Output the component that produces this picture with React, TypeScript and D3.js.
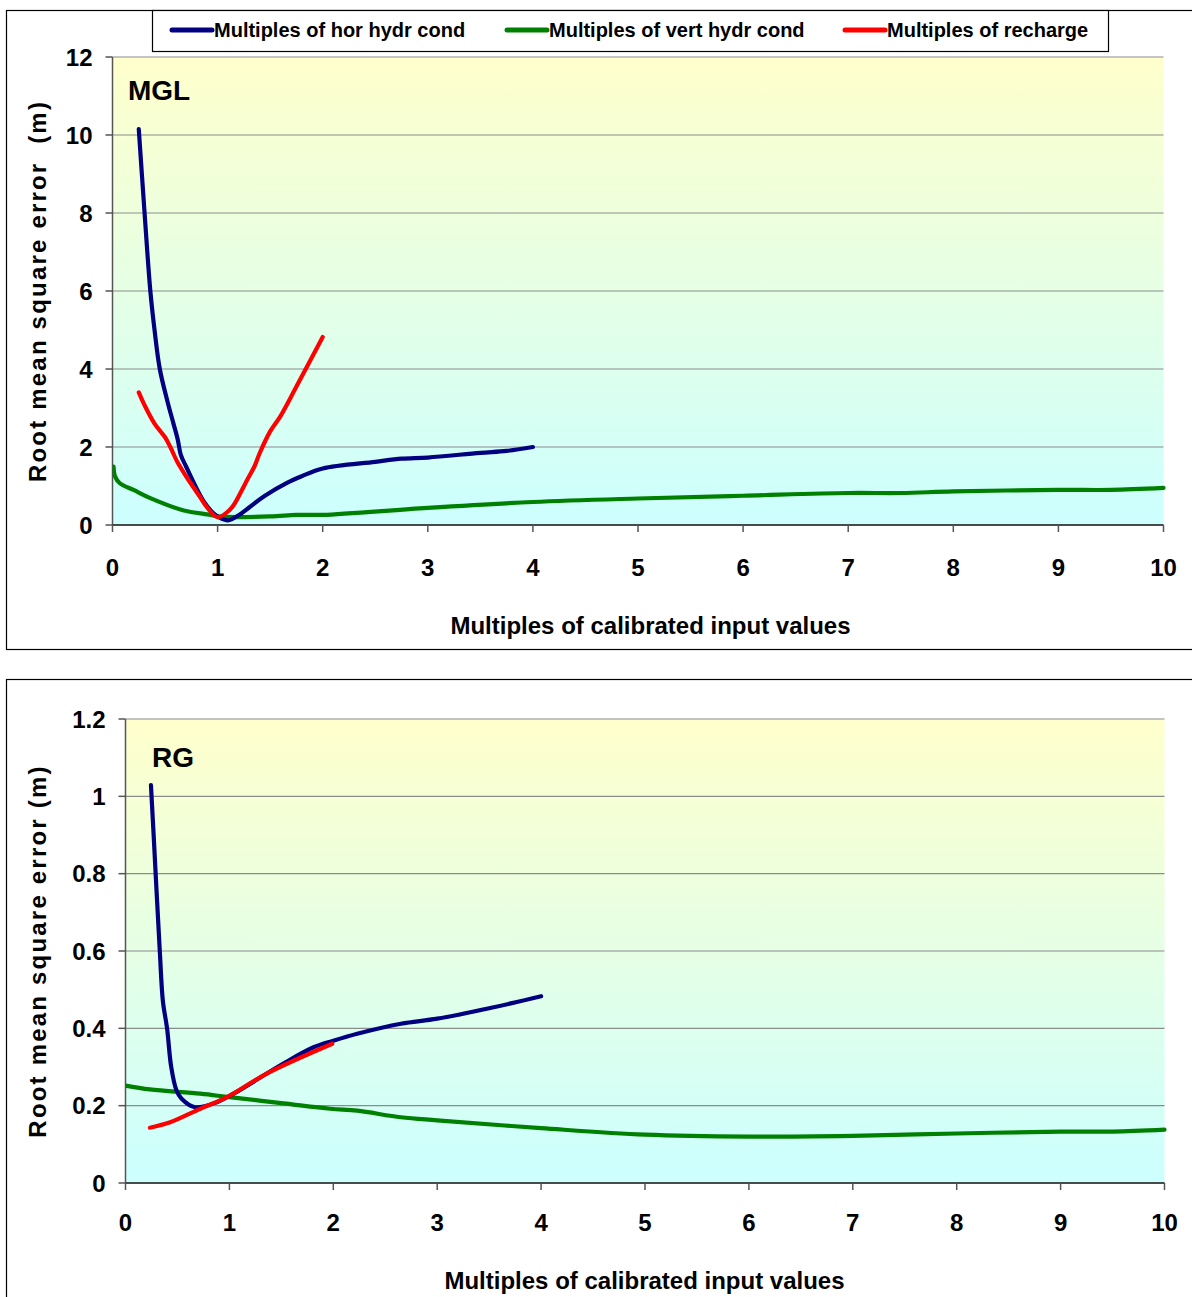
import React from "react";
import * as d3 from "d3";

// ---------- DATA ----------
const seriesNames = ["Multiples of hor hydr cond", "Multiples of vert hydr cond", "Multiples of recharge"];
const seriesColors = ["#000080", "#008000", "#FF0000"];
const xTicks = [0, 1, 2, 3, 4, 5, 6, 7, 8, 9, 10];
const mglYTicks = [0, 2, 4, 6, 8, 10, 12];
const rgYTicks = [0, 0.2, 0.4, 0.6, 0.8, 1, 1.2];

// MGL panel
const mglHor: [number, number][] = [
  [0.25, 10.15], [0.3, 8.2], [0.36, 6.0], [0.4, 5.0], [0.45, 4.0], [0.52, 3.2], [0.58, 2.6],
  [0.62, 2.2], [0.65, 1.8], [0.7, 1.5], [0.86, 0.64], [0.96, 0.3], [1.0, 0.22], [1.1, 0.12],
  [1.2, 0.25], [1.3, 0.45], [1.45, 0.75], [1.66, 1.08], [1.8, 1.25], [2.0, 1.45], [2.5, 1.62],
  [2.75, 1.7], [3.0, 1.73], [3.5, 1.85], [3.75, 1.9], [4.0, 2.0],
];
const mglVert: [number, number][] = [
  [0.01, 1.5], [0.025, 1.24], [0.07, 1.07], [0.2, 0.9], [0.36, 0.69], [0.67, 0.38], [0.93, 0.26],
  [1.0, 0.22], [1.5, 0.22], [1.75, 0.26], [2.0, 0.26], [3.0, 0.44], [4.0, 0.59], [5.0, 0.68],
  [6.0, 0.75], [7.0, 0.82], [7.5, 0.82], [8.0, 0.86], [9.0, 0.9], [9.5, 0.9], [10.0, 0.95],
];
const mglRecharge: [number, number][] = [
  [0.25, 3.4], [0.3, 3.1], [0.4, 2.6], [0.5, 2.25], [0.55, 2.0], [0.62, 1.6], [0.7, 1.25],
  [0.83, 0.73], [0.9, 0.45], [1.0, 0.2], [1.1, 0.35], [1.15, 0.5], [1.28, 1.15], [1.35, 1.5],
  [1.4, 1.84], [1.5, 2.4], [1.6, 2.8], [1.75, 3.55], [2.0, 4.82],
];

// RG panel
const rgHor: [number, number][] = [
  [0.245, 1.029], [0.27, 0.904], [0.33, 0.6], [0.36, 0.47], [0.4, 0.4], [0.44, 0.3], [0.49, 0.24],
  [0.54, 0.218], [0.67, 0.196], [0.88, 0.209], [1.04, 0.231], [1.52, 0.309], [1.81, 0.351],
  [2.0, 0.368], [2.23, 0.386], [2.65, 0.412], [3.0, 0.425], [3.5, 0.452], [4.0, 0.483],
];
const rgVert: [number, number][] = [
  [0.0, 0.252], [0.235, 0.242], [0.72, 0.231], [1.0, 0.222], [1.52, 0.206], [1.97, 0.192],
  [2.23, 0.187], [2.65, 0.17], [3.0, 0.162], [4.0, 0.142], [5.0, 0.125], [6.0, 0.12], [7.0, 0.122],
  [8.0, 0.128], [9.0, 0.133], [9.5, 0.133], [10.0, 0.138],
];
const rgRecharge: [number, number][] = [
  [0.235, 0.143], [0.43, 0.157], [0.72, 0.192], [0.975, 0.222], [1.36, 0.283], [1.99, 0.36],
];

const FONT = "'Liberation Sans', Arial, sans-serif";

type PanelProps = {
  id: string;
  label: string;
  labelSize: number;
  labelPos: [number, number];
  frameTop: number;
  frameBottom: number;
  left: number;
  right: number;
  top: number;
  bottom: number;
  yMax: number;
  yTicks: number[];
  yFmt: (v: number) => string;
  yTitle: string;
  series: [number, number][][];
  xLabelBase: number;
  xTitleX: number;
  xTitleBase: number;
};

function Panel(p: PanelProps) {
  const x = d3.scaleLinear().domain([0, 10]).range([p.left, p.right]);
  const y = d3.scaleLinear().domain([0, p.yMax]).range([p.bottom, p.top]);
  const line = d3
    .line<[number, number]>()
    .x((d) => x(d[0]))
    .y((d) => y(d[1]))
    .curve(d3.curveCatmullRom.alpha(0.5));
  const order = [1, 0, 2];
  const yTitleY = (p.top + p.bottom) / 2;
  return (
    <g>
      <rect x={6.5} y={p.frameTop + 0.5} width={1200} height={p.frameBottom - p.frameTop} fill="#fff" stroke="#000" strokeWidth={1.2} />
      <defs>
        <linearGradient id={"bg" + p.id} x1="0" y1="0" x2="0" y2="1">
          <stop offset="0" stopColor="#FFFFCC" />
          <stop offset="1" stopColor="#CCFFFF" />
        </linearGradient>
        <clipPath id={"clip" + p.id}>
          <rect x={p.left} y={p.top - 4} width={p.right - p.left + 4} height={p.bottom - p.top + 4} />
        </clipPath>
      </defs>
      <rect x={p.left} y={p.top} width={p.right - p.left} height={p.bottom - p.top} fill={`url(#bg${p.id})`} />
      {p.yTicks.map((t) => (
        <line key={"g" + t} x1={p.left} x2={p.right} y1={y(t)} y2={y(t)} stroke="#8c8c8c" strokeWidth={1.2} />
      ))}
      {/* axes */}
      <line x1={p.left} x2={p.left} y1={p.top} y2={p.bottom} stroke="#555" strokeWidth={1.5} />
      <line x1={p.left} x2={p.right} y1={p.bottom} y2={p.bottom} stroke="#222" strokeWidth={1.5} />
      {p.yTicks.map((t) => (
        <g key={"yt" + t}>
          <line x1={p.left - 7} x2={p.left} y1={y(t)} y2={y(t)} stroke="#555" strokeWidth={1.5} />
          <text x={p.left - 20} y={y(t) + 8.5} textAnchor="end" fontFamily={FONT} fontWeight="bold" fontSize={24}>
            {p.yFmt(t)}
          </text>
        </g>
      ))}
      {xTicks.map((t) => (
        <g key={"xt" + t}>
          <line x1={x(t)} x2={x(t)} y1={p.bottom} y2={p.bottom + 7} stroke="#555" strokeWidth={1.5} />
          <text x={x(t)} y={p.xLabelBase} textAnchor="middle" fontFamily={FONT} fontWeight="bold" fontSize={24}>
            {t}
          </text>
        </g>
      ))}
      <g clipPath={`url(#clip${p.id})`}>
        {order.map((i) => (
          <path key={"s" + i} d={line(p.series[i]) || ""} fill="none" stroke={seriesColors[i]} strokeWidth={4.2} strokeLinejoin="round" strokeLinecap="round" />
        ))}
      </g>
      <text x={p.labelPos[0]} y={p.labelPos[1]} fontFamily={FONT} fontWeight="bold" fontSize={p.labelSize}>
        {p.label}
      </text>
      <text x={p.xTitleX} y={p.xTitleBase} textAnchor="middle" fontFamily={FONT} fontWeight="bold" fontSize={24}>
        Multiples of calibrated input values
      </text>
      <text
        transform={`translate(46,${yTitleY}) rotate(-90)`}
        textAnchor="middle"
        fontFamily={FONT}
        fontWeight="bold"
        fontSize={24}
        letterSpacing={2.2}
        style={{ whiteSpace: "pre" }}
      >
        {p.yTitle}
      </text>
    </g>
  );
}

export default function App() {
  const legendX = [172, 507, 845];
  return (
    <svg width={1192} height={1297} style={{ position: "absolute", left: 0, top: 0, background: "#fff" }}>
      <Panel
        id="mgl"
        label="MGL"
        labelSize={28}
        labelPos={[128, 100]}
        frameTop={10}
        frameBottom={649}
        left={112.5}
        right={1163.5}
        top={57}
        bottom={525}
        yMax={12}
        yTicks={mglYTicks}
        yFmt={(v) => String(v)}
        yTitle={"Root mean square error  (m)"}
        series={[mglHor, mglVert, mglRecharge]}
        xLabelBase={576}
        xTitleX={650.5}
        xTitleBase={634}
      />
      <Panel
        id="rg"
        label="RG"
        labelSize={28}
        labelPos={[152, 767]}
        frameTop={679}
        frameBottom={1400}
        left={125.5}
        right={1164.5}
        top={719}
        bottom={1183}
        yMax={1.2}
        yTicks={rgYTicks}
        yFmt={(v) => d3.format("~g")(+v.toFixed(1))}
        yTitle={"Root mean square error (m)"}
        series={[rgHor, rgVert, rgRecharge]}
        xLabelBase={1231}
        xTitleX={644.5}
        xTitleBase={1289}
      />
      {/* legend */}
      <rect x={152.5} y={10.5} width={956} height={41} fill="#fff" stroke="#000" strokeWidth={1.2} />
      {seriesNames.map((n, i) => (
        <g key={n}>
          <line x1={legendX[i]} x2={legendX[i] + 40} y1={30} y2={30} stroke={seriesColors[i]} strokeWidth={5} strokeLinecap="round" />
          <text x={legendX[i] + 42} y={37} fontFamily={FONT} fontWeight="bold" fontSize={20}>
            {n}
          </text>
        </g>
      ))}
    </svg>
  );
}
